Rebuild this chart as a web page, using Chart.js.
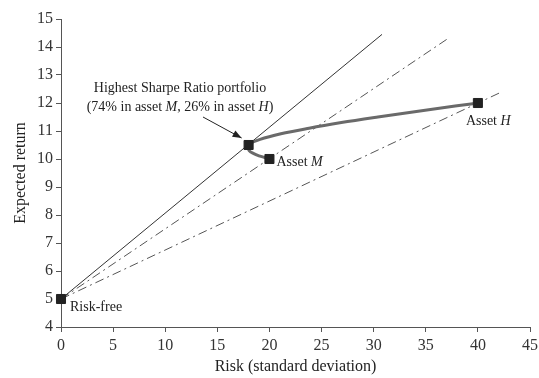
<!DOCTYPE html>
<html><head><meta charset="utf-8">
<script src="https://cdn.jsdelivr.net/npm/chart.js@4/dist/chart.umd.min.js"></script>
<style>html,body{margin:0;padding:0;background:#fff}#wrap{width:539px;height:378px}</style>
</head><body><div id="wrap"><canvas id="c" width="539" height="378"></canvas></div>
<script>
const xTicks = [0,5,10,15,20,25,30,35,40,45];
const yTicks = [4,5,6,7,8,9,10,11,12,13,14,15];
const capitalLine = [{x:0,y:5},{x:30.8,y:14.45}];
const lineM = [{x:0,y:5},{x:37,y:14.27}];
const lineH = [{x:0,y:5},{x:42.3,y:12.4}];
const frontierRisk = [20,19.1,18.45,18.05,17.9,18.0,18.4,19.1,21.1,23.8,26.9,30.4,34.1,38.0,40];
const frontierRet  = [10,10.1,10.2,10.3,10.4,10.52,10.6,10.7,10.9,11.1,11.3,11.5,11.7,11.9,12];
const markerNames = ['Risk-free','Highest Sharpe','Asset M','Asset H'];
const markerRisk = [0,18,20,40];
const markerRet = [5,10.5,10,12];

const FONT = '"Liberation Serif", "DejaVu Serif", serif';
const frontier = frontierRisk.map((r,i)=>({x:r,y:frontierRet[i]}));
const markers = markerRisk.map((r,i)=>({x:r,y:markerRet[i]}));

const labelPlugin = {
  id:'labels',
  afterDraw(chart){
    const ctx = chart.ctx, xs = chart.scales.x, ys = chart.scales.y;
    const px = v=>xs.getPixelForValue(v), py = v=>ys.getPixelForValue(v);
    ctx.save();
    ctx.fillStyle = '#222';
    ctx.textBaseline = 'middle';
    const mixed = (parts, x, y, align) => {
      let w = 0;
      parts.forEach(p=>{ctx.font=(p[1]?'italic ':'')+'14px '+FONT; w+=ctx.measureText(p[0]).width;});
      let cx = align==='center'? x-w/2 : x;
      ctx.textAlign='left';
      parts.forEach(p=>{ctx.font=(p[1]?'italic ':'')+'14px '+FONT; ctx.fillText(p[0],cx,y); cx+=ctx.measureText(p[0]).width;});
    };
    mixed([['Risk-free',false]], px(markerRisk[0])+9, py(markerRet[0])+8, 'left');
    mixed([['Asset ',false],['M',true]], px(markerRisk[2])+7, py(markerRet[2])+3, 'left');
    mixed([['Asset ',false],['H',true]], px(markerRisk[3])-12, py(markerRet[3])+18, 'left');
    mixed([['Highest Sharpe Ratio portfolio',false]], 180, 88, 'center');
    mixed([['(74% in asset ',false],['M',true],[', 26% in asset ',false],['H',true],[')',false]], 180, 107, 'center');
    const x0=203,y0=117, x1=px(markerRisk[1])-7, y1=py(markerRet[1])-7;
    ctx.strokeStyle='#222'; ctx.lineWidth=1;
    ctx.beginPath(); ctx.moveTo(x0,y0); ctx.lineTo(x1,y1); ctx.stroke();
    const a = Math.atan2(y1-y0,x1-x0), L=9, W=3.5;
    ctx.beginPath();
    ctx.moveTo(x1,y1);
    ctx.lineTo(x1-L*Math.cos(a)+W*Math.sin(a), y1-L*Math.sin(a)-W*Math.cos(a));
    ctx.lineTo(x1-L*Math.cos(a)-W*Math.sin(a), y1-L*Math.sin(a)+W*Math.cos(a));
    ctx.closePath(); ctx.fill();
    ctx.restore();
  }
};

new Chart(document.getElementById('c'), {
  type:'scatter',
  data:{datasets:[
    {label:'points', data:markers, pointStyle:'rect', pointRadius:6.4, pointBackgroundColor:'#222', pointBorderColor:'#222', showLine:false, order:0, clip:false},
    {label:'frontier', data:frontier, showLine:true, borderColor:'#6a6a6a', borderWidth:3, pointRadius:0, cubicInterpolationMode:'monotone', order:1},
    {label:'capital', data:capitalLine, showLine:true, borderColor:'#333', borderWidth:1, pointRadius:0, order:2},
    {label:'M line', data:lineM, showLine:true, borderColor:'#555', borderWidth:1, borderDash:[9,4,2,4], pointRadius:0, order:3},
    {label:'H line', data:lineH, showLine:true, borderColor:'#555', borderWidth:1, borderDash:[9,4,2,4], pointRadius:0, order:4}
  ]},
  options:{
    responsive:false, animation:false, devicePixelRatio:1,
    layout:{padding:{left:0,right:9,top:19,bottom:0}},
    plugins:{legend:{display:false}, tooltip:{enabled:false}},
    scales:{
      x:{type:'linear', min:0, max:45,
        afterBuildTicks(s){s.ticks = xTicks.map(v=>({value:v}));},
        afterFit(s){s.height = 51; s.paddingLeft = 0; s.paddingRight = 0;},
        grid:{drawOnChartArea:false, drawTicks:true, tickLength:5, color:'#555'},
        border:{color:'#555', width:1},
        ticks:{color:'#333', font:{family:FONT, size:16}, padding:4, maxRotation:0},
        title:{display:true, text:'Risk (standard deviation)', color:'#222', font:{family:FONT, size:16}, padding:{top:4,bottom:2}}
      },
      y:{type:'linear', min:4, max:15,
        afterBuildTicks(s){s.ticks = yTicks.map(v=>({value:v}));},
        afterFit(s){s.width = 61; s.paddingTop = 0; s.paddingBottom = 0;},
        grid:{drawOnChartArea:false, drawTicks:true, tickLength:5, color:'#555'},
        border:{color:'#555', width:1},
        ticks:{color:'#333', font:{family:FONT, size:16}, padding:3},
        title:{display:true, text:'Expected return', color:'#222', font:{family:FONT, size:16}, padding:{top:11,bottom:4}}
      }
    }
  },
  plugins:[labelPlugin]
});
</script></body></html>
